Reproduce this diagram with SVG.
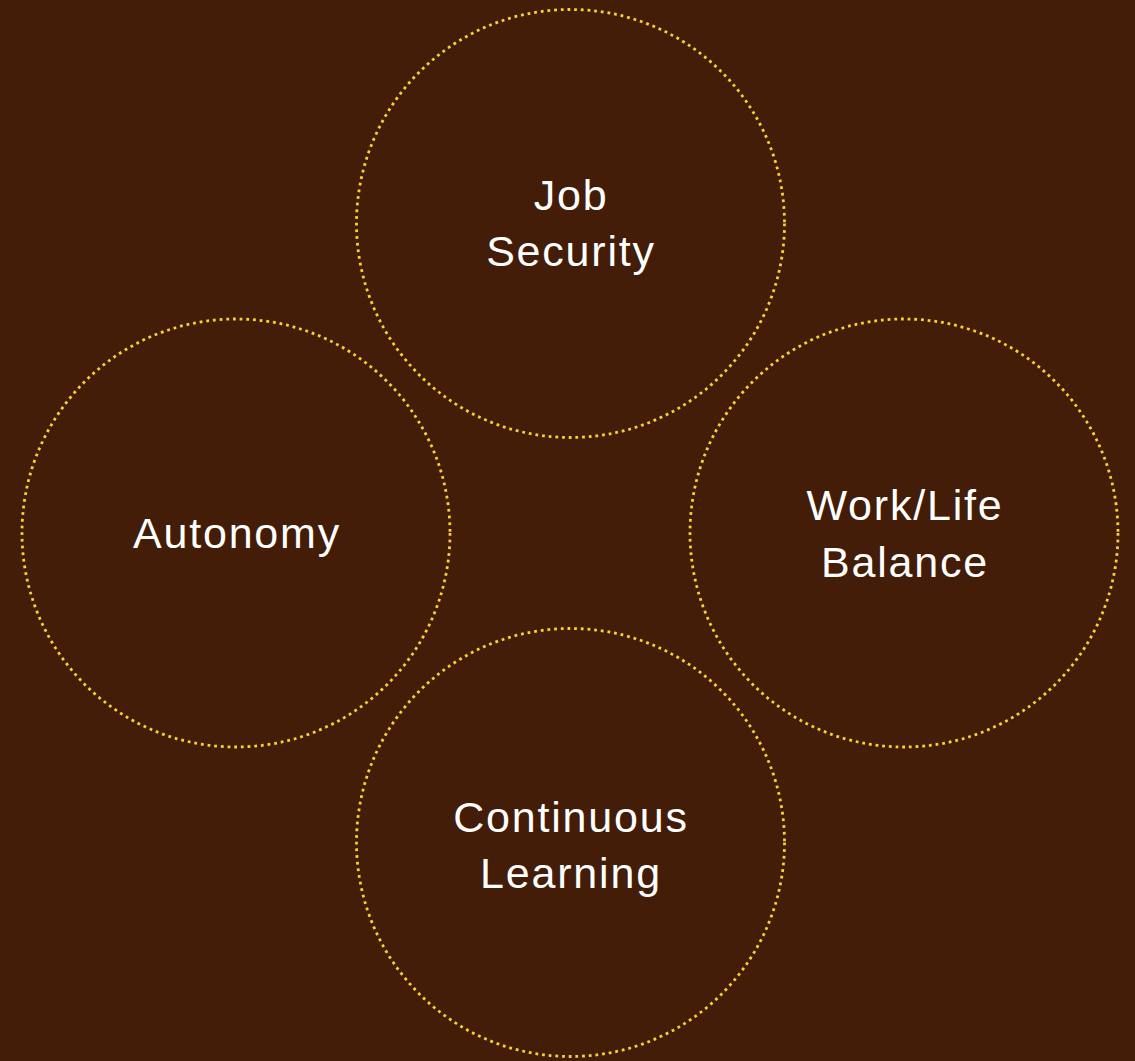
<svg xmlns="http://www.w3.org/2000/svg" width="1135" height="1061" viewBox="0 0 1135 1061">
<style>
.c{fill:none;stroke:#F6D234;stroke-width:2.8;stroke-dasharray:2.8 3.9;stroke-linecap:butt}
.t{font-family:"Liberation Sans",Arial,sans-serif;font-size:43px;fill:#FFFFFF;text-anchor:middle;letter-spacing:1.8px}
</style>
<rect width="1135" height="1061" fill="#431D07"/>
<g id="job-security">
<circle class="c" cx="570.5" cy="223.5" r="214"/>
<text class="t" x="571" y="210">Job</text>
<text class="t" x="571" y="266">Security</text>
</g>
<g id="autonomy">
<circle class="c" cx="236" cy="533" r="214"/>
<text class="t" x="237" y="548">Autonomy</text>
</g>
<g id="work-life-balance">
<circle class="c" cx="904" cy="533" r="214"/>
<text class="t" x="905" y="520">Work/Life</text>
<text class="t" x="905" y="577">Balance</text>
</g>
<g id="continuous-learning">
<circle class="c" cx="570.5" cy="842.5" r="214"/>
<text class="t" x="571" y="832">Continuous</text>
<text class="t" x="571" y="888">Learning</text>
</g>
<g id="connectors"/>
</svg>
